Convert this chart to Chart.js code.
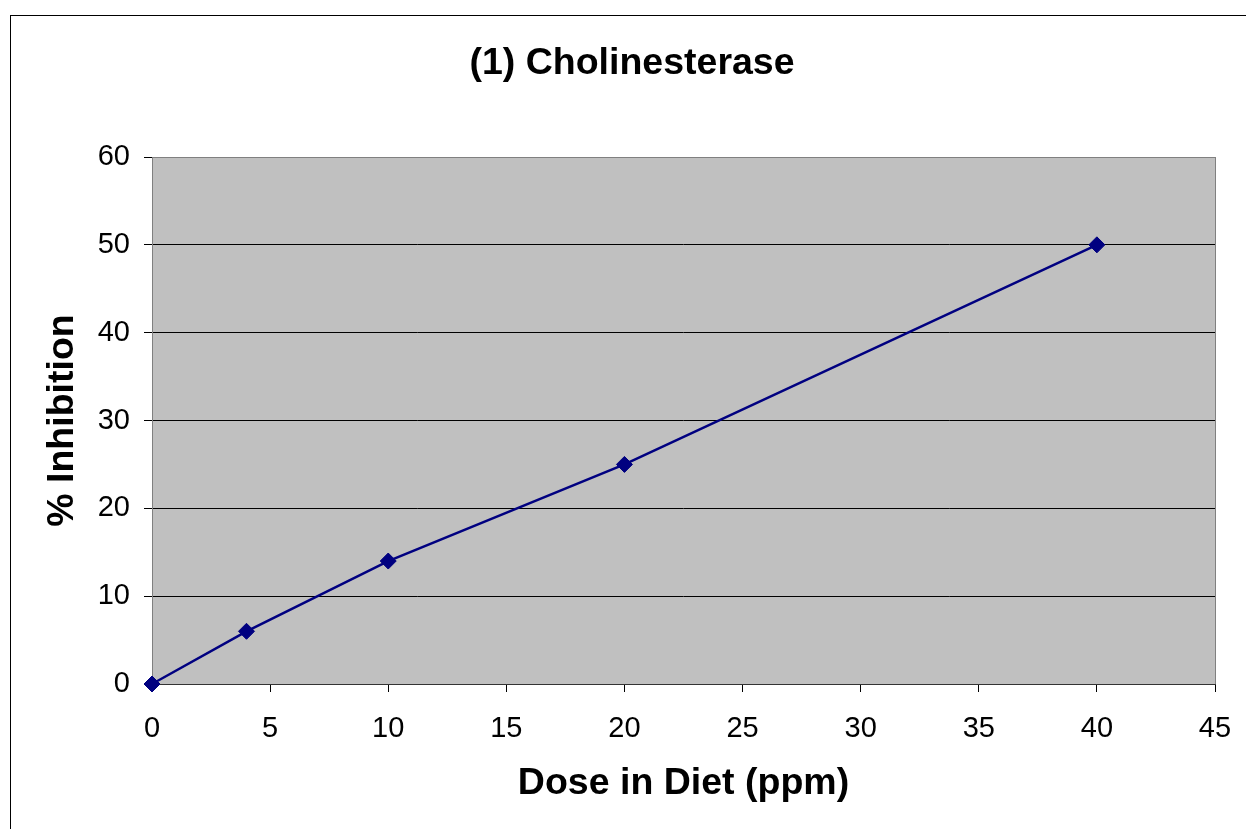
<!DOCTYPE html>
<html>
<head>
<meta charset="utf-8">
<script src="https://cdn.jsdelivr.net/npm/chart.js@4/dist/chart.umd.min.js"></script>
<style>
  html, body { margin: 0; padding: 0; background: #fff; }
  #wrap { position: relative; width: 1246px; height: 829px; }
</style>
</head>
<body>
<div id="wrap"><canvas id="chart" width="1246" height="829"></canvas></div>
<script>
const doses = [0, 4, 10, 20, 40];
const inhibition = [0, 6, 14, 25, 50];

const chartTitle = "(1) Cholinesterase";
const xTitle = "Dose in Diet (ppm)";
const yTitle = "% Inhibition";

const FONT = "'Liberation Sans', Arial, sans-serif";

// grey plot background + frame, the outer box, and the title (sits a bit left of plot centre)
const framePlugin = {
  id: "frame",
  beforeDatasetsDraw(chart) {
    const { ctx, chartArea: a } = chart;
    ctx.save();
    ctx.strokeStyle = "#808080";
    ctx.lineWidth = 1;
    ctx.strokeRect(Math.round(a.left) + 0.5, Math.round(a.top) + 0.5,
      Math.round(a.right - a.left), Math.round(a.bottom - a.top));
    ctx.strokeStyle = "#333";
    ctx.beginPath();
    ctx.moveTo(Math.round(a.left), Math.round(a.bottom) + 0.5);
    ctx.lineTo(Math.round(a.right) + 1, Math.round(a.bottom) + 0.5);
    ctx.stroke();
    ctx.restore();
  },
  beforeDraw(chart) {
    const { ctx, chartArea: a } = chart;
    ctx.save();
    ctx.fillStyle = "#fff";
    ctx.fillRect(0, 0, chart.width, chart.height);
    ctx.strokeStyle = "#000";
    ctx.lineWidth = 1;
    ctx.strokeRect(10.5, 15.5, 3000, 3000);
    ctx.fillStyle = "#c0c0c0";
    ctx.fillRect(a.left, a.top, a.right - a.left, a.bottom - a.top);
    ctx.fillStyle = "#000";
    ctx.font = "bold 37.5px " + FONT;
    ctx.textAlign = "center";
    ctx.textBaseline = "middle";
    ctx.fillText(chartTitle, 632, 64);
    ctx.restore();
  }
};

new Chart(document.getElementById("chart"), {
  type: "scatter",
  data: {
    datasets: [{
      data: doses.map((d, i) => ({ x: d, y: inhibition[i] })),
      showLine: true,
      clip: false,
      borderColor: "#000080",
      backgroundColor: "#000080",
      borderWidth: 2.5,
      pointStyle: "rectRot",
      pointRadius: 8,
      pointBorderWidth: 1,
      pointBorderColor: "#000080",
      pointBackgroundColor: "#000080"
    }]
  },
  options: {
    responsive: false,
    animation: false,
    devicePixelRatio: 1,
    layout: { padding: { left: 0, right: 31, top: 157, bottom: 0 } },
    plugins: {
      legend: { display: false },
      tooltip: { enabled: false },
      title: { display: false }
    },
    scales: {
      x: {
        type: "linear",
        min: 0,
        max: 45,
        ticks: { stepSize: 5, color: "#000", padding: 20,
          font: { family: FONT, size: 29 } },
        grid: { drawOnChartArea: false, drawTicks: true, tickLength: 8,
          color: "#000", tickColor: "#000" },
        border: { display: false },
        title: {
          display: true, text: xTitle, color: "#000",
          font: { family: FONT, size: 37.5, weight: "bold", lineHeight: 1.2 },
          padding: { top: 0, bottom: 23 }
        },
        afterFit(scale) {
          scale.height = 145;
          scale.paddingLeft = 0;
          scale.paddingRight = 0;
        }
      },
      y: {
        type: "linear",
        min: 0,
        max: 60,
        ticks: { stepSize: 10, color: "#000", padding: 14,
          font: { family: FONT, size: 29 } },
        grid: { drawOnChartArea: true, drawTicks: true, tickLength: 8,
          color: "#000", tickColor: "#000", lineWidth: 1 },
        border: { display: false },
        title: {
          display: true, text: yTitle, color: "#000",
          font: { family: FONT, size: 37.5, weight: "bold", lineHeight: 1.2 },
          padding: { top: 40, bottom: 0 }
        },
        afterFit(scale) {
          scale.width = 152;
          scale.paddingTop = 0;
          scale.paddingBottom = 0;
        }
      }
    }
  },
  plugins: [framePlugin]
});
</script>
</body>
</html>
